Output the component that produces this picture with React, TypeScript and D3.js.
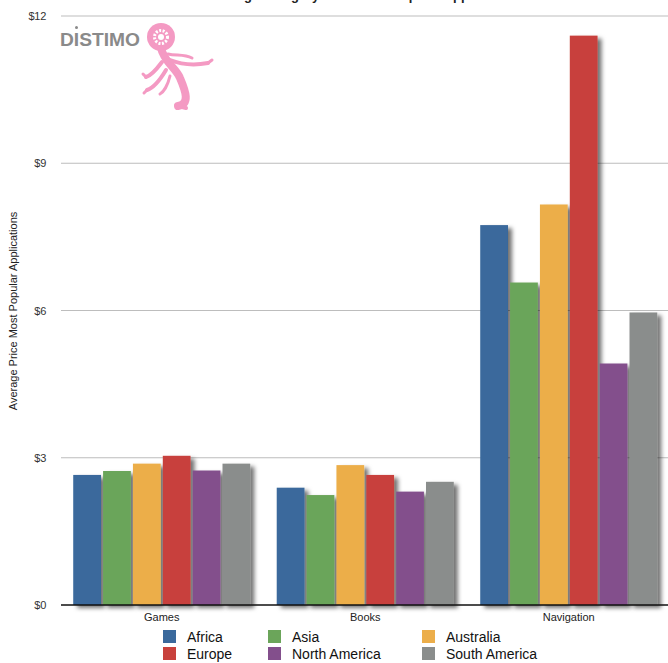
import React from "react";
import * as d3 from "d3";

const categories = ["Games", "Books", "Navigation"];
const regions = ["Africa", "Asia", "Australia", "Europe", "North America", "South America"];
const regionColors = ["#3a699c", "#6ba55a", "#ecae4a", "#c8413c", "#834f8c", "#8a8d8c"];
const gamesValues = [2.65, 2.73, 2.88, 3.04, 2.74, 2.88];
const booksValues = [2.39, 2.24, 2.85, 2.65, 2.31, 2.51];
const navigationValues = [7.74, 6.57, 8.16, 11.6, 4.92, 5.96];
const yTicks = [0, 3, 6, 9, 12];
const yTickLabels = ["$0", "$3", "$6", "$9", "$12"];
const chartTitle = "Average Category Price Most Popular Applications";
const yAxisTitle = "Average Price Most Popular Applications";

const seriesByCategory = [gamesValues, booksValues, navigationValues];

const W = 668;
const H = 663;
const FONT = "'Liberation Sans', Arial, Helvetica, sans-serif";
const PINK = "#f49ac3";

export default function App() {
  const x0 = d3
    .scaleBand<string>()
    .domain(categories)
    .range([60, 670.5])
    .paddingInner(0.13)
    .paddingOuter(0.065);
  const x1 = d3
    .scaleBand<string>()
    .domain(regions)
    .range([0, x0.bandwidth()])
    .paddingInner(0.07);
  const y = d3.scaleLinear().domain([0, 12]).range([605, 16]);

  const legendCols = [163, 268, 422];
  const legendRows = [630, 647];

  return (
    <svg
      width={W}
      height={H}
      style={{ position: "absolute", left: 0, top: 0, display: "block", background: "#fff" }}
      fontFamily={FONT}
    >
      <defs>
        <filter id="shadow" x="-20%" y="-5%" width="160%" height="120%">
          <feDropShadow dx="4" dy="3" stdDeviation="2" floodColor="#000" floodOpacity="0.55" />
        </filter>
      </defs>

      {/* title (cut off at top, as in the reference) */}
      <text x={365} y={0} textAnchor="middle" fontSize={13} fontWeight="bold" fill="#222">
        {chartTitle}
      </text>

      {/* gridlines */}
      {yTicks.slice(1).map((t) => (
        <line key={t} x1={61} x2={W} y1={y(t)} y2={y(t)} stroke="#bdbdbd" strokeWidth={1.2} />
      ))}
      {yTicks.map((t, i) => (
        <text
          key={"l" + t}
          x={46}
          y={y(t) + 4}
          textAnchor="end"
          fontSize={11}
          fill="#333"
          style={{ letterSpacing: "-0.3px" }}
        >
          {yTickLabels[i]}
        </text>
      ))}

      {/* logo */}
      <g>
        <text x={60} y={46} fontSize={19} fontWeight="bold" fill="#8a8a8a" textLength={80} lengthAdjust="spacingAndGlyphs">
          DISTIMO
        </text>
        <circle cx={76.5} cy={27.5} r={1.5} fill="#8a8a8a" />
        <g fill="none" stroke={PINK} strokeLinecap="round" strokeLinejoin="round">
          {/* body and curly tail */}
          <path d="M161,48 C164,62 176,68 180,78 C186,92 190,104 178,106" strokeWidth={8} />
          <path d="M178,106 L186,108" strokeWidth={4} />
          {/* right arms */}
          <path d="M170,60 C180,64 192,66 208,63" strokeWidth={4} />
          <path d="M168,54 C176,56 184,54 192,58" strokeWidth={3} />
          {/* left arms */}
          <path d="M162,62 C156,70 150,76 146,77" strokeWidth={4} />
          <path d="M166,70 C160,80 154,88 147,90" strokeWidth={4} />
          <path d="M170,76 C168,84 164,92 160,94" strokeWidth={3} />
        </g>
        <path d="M146,77 l-3,-3 M147,90 l-3,3 M208,63 l4,-3" stroke={PINK} strokeWidth={3} strokeLinecap="round" />
        <circle cx={161} cy={37} r={14} fill={PINK} />
        <circle cx={161} cy={37} r={6.5} fill="none" stroke="#fff" strokeWidth={3} strokeDasharray="2 1.5" />
        <circle cx={161} cy={37} r={3} fill="#fff" />
      </g>

      {/* bars */}
      {categories.map((c, ci) => (
        <g key={c} transform={`translate(${x0(c)},0)`}>
          {regions.map((r, ri) => {
            const v = seriesByCategory[ci][ri];
            return (
              <rect
                key={r}
                x={x1(r)}
                y={y(v)}
                width={x1.bandwidth()}
                height={y(0) - y(v)}
                fill={regionColors[ri]}
                filter="url(#shadow)"
              />
            );
          })}
        </g>
      ))}

      {/* baseline */}
      <line x1={61} x2={W} y1={y(0)} y2={y(0)} stroke="#111" strokeWidth={1.3} />

      {/* category labels */}
      {categories.map((c) => (
        <text key={c} x={(x0(c) as number) + x0.bandwidth() / 2} y={621} textAnchor="middle" fontSize={11} fill="#222">
          {c}
        </text>
      ))}

      {/* y axis title */}
      <text transform={`translate(17,311) rotate(-90)`} textAnchor="middle" fontSize={11} fill="#222">
        {yAxisTitle}
      </text>

      {/* legend */}
      {regions.map((r, i) => {
        const col = i % 3;
        const row = Math.floor(i / 3);
        const lx = legendCols[col];
        const ly = legendRows[row];
        return (
          <g key={r}>
            <rect x={lx} y={ly} width={13} height={13} fill={regionColors[i]} />
            <text x={lx + 24} y={ly + 11.5} fontSize={14} fill="#111">
              {r}
            </text>
          </g>
        );
      })}
    </svg>
  );
}
